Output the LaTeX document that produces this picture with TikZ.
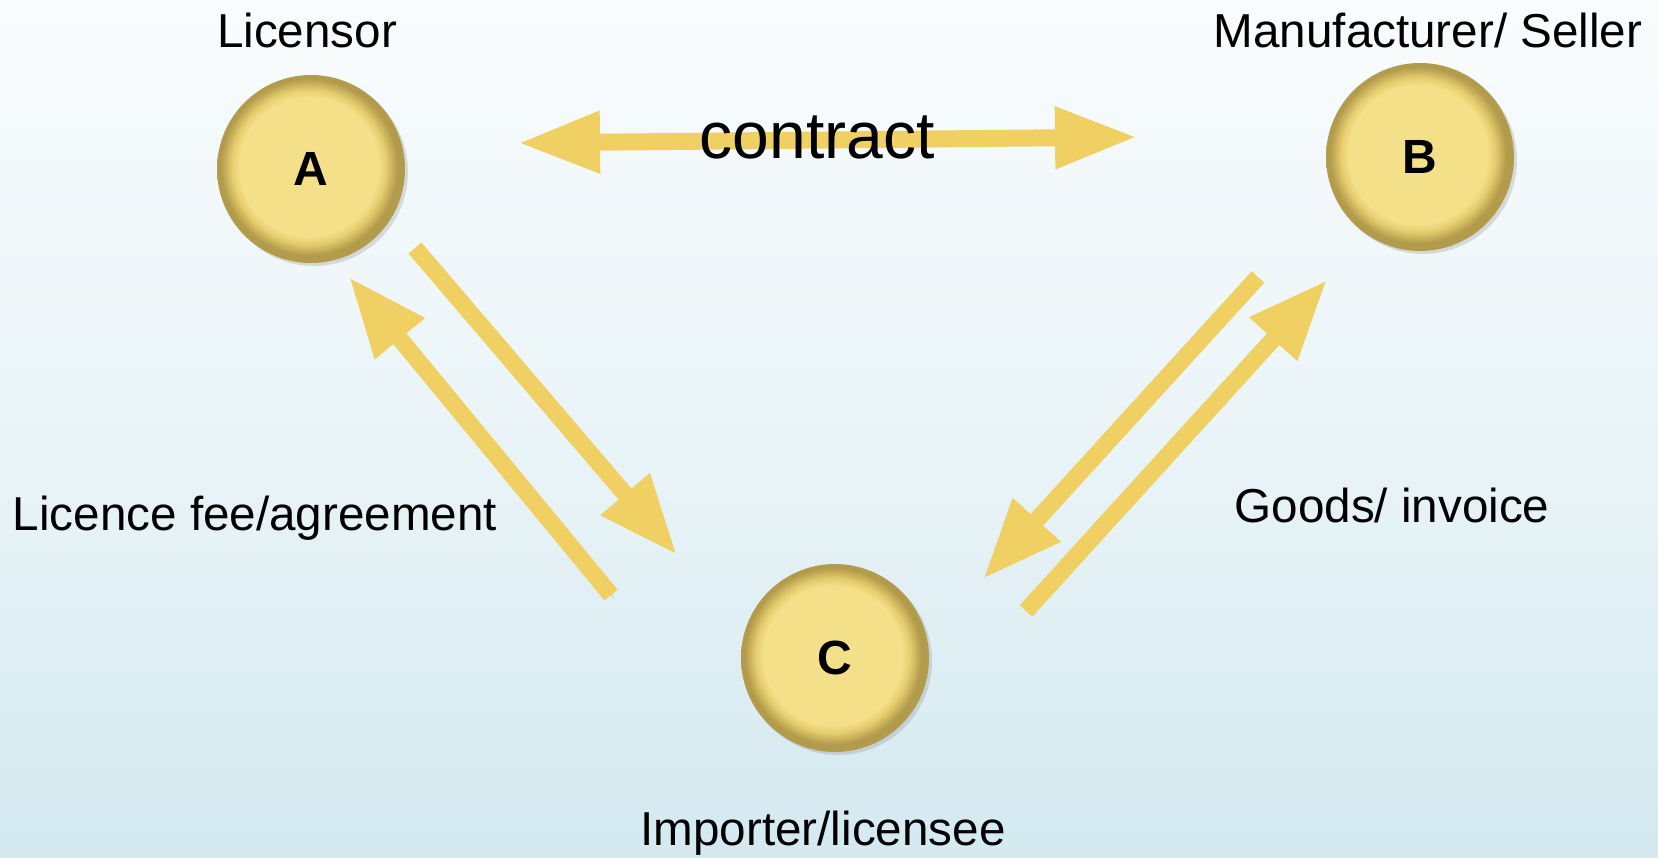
\documentclass[tikz,border=0pt]{standalone}
\usepackage{tikz}
\usetikzlibrary{
  positioning,
  arrows.meta,
  shadows
}
\usepackage{fontspec}
\setmainfont{Liberation Sans}
\usepackage{xcolor}
\definecolor{bgtop}{HTML}{F9FCFD}
\definecolor{bgbottom}{HTML}{D4E9F0}
\definecolor{coinlight}{HTML}{F4E089}
\definecolor{coinmid}{HTML}{E6CD6E}
\definecolor{coinrim}{HTML}{B39B4C}
\definecolor{gold}{HTML}{F0D062}
\pgfdeclareradialshading{coin}{\pgfpoint{-1bp}{1bp}}{%
  color(0bp)=(coinlight); color(18.5bp)=(coinlight); color(20.5bp)=(coinmid);
  color(23.5bp)=(coinrim); color(25bp)=(coinrim); color(50bp)=(coinrim)}

\begin{document}
\begin{tikzpicture}[
  x=0.5pt, y=-0.5pt,
  coin/.style={circle, inner sep=0pt, minimum size=94pt, shading=coin,
               drop shadow={opacity=0.25, shadow xshift=1.5pt, shadow yshift=-1.5pt},
               font=\fontsize{24}{28}\selectfont\bfseries},
  lbl/.style={font=\fontsize{23.8}{28}\selectfont, text depth=0pt, inner sep=0pt},
  bigarrow/.style={draw=gold, line width=8.5pt,
               -{Triangle[length=40pt, width=30pt]},
               preaction={draw=black!60, opacity=0.25,
                          transform canvas={xshift=1.5pt, yshift=-1.5pt}}},
  bothways/.style={bigarrow,
               {Triangle[length=41pt, width=29pt]}-{Triangle[length=41pt, width=29pt]}}
]
  % Background
  \fill[top color=bgtop, bottom color=bgbottom, middle color=bgtop!60!bgbottom]
    (0,0) rectangle (1658,857);
  \useasboundingbox (0,0) rectangle (1658,857);

  % Parties
  \node[coin] (A) at (311,169) {A};
  \node[coin] (B) at (1420,157) {B};
  \node[coin] (C) at (835,658) {C};

  % Labels
  \node[lbl] (licensor) at (307,30) {Licensor};
  \node[lbl] (maker) at (1428,30) {Manufacturer/ Seller};
  \node[lbl] (fee) at (255,513) {Licence fee/agreement};
  \node[lbl] (goods) at (1392,505) {Goods/ invoice};
  \node[lbl] (importer) at (823,828) {Importer/licensee};

  % Arrow ends
  \coordinate (ab-left) at (518,143);
  \coordinate (ab-right) at (1137,137);
  \coordinate (ac-tail) at (415,248);
  \coordinate (ac-tip) at (677,555);
  \coordinate (ca-tail) at (611,595);
  \coordinate (ca-tip) at (349,277);
  \coordinate (bc-tail) at (1258,277);
  \coordinate (bc-tip) at (983,579);
  \coordinate (cb-tail) at (1026,611);
  \coordinate (cb-tip) at (1327,280);

  % Flows
  \draw[bothways] (ab-left) -- (ab-right);
  \draw[bigarrow] (ac-tail) -- (ac-tip);
  \draw[bigarrow] (ca-tail) -- (ca-tip);
  \draw[bigarrow] (bc-tail) -- (bc-tip);
  \draw[bigarrow] (cb-tail) -- (cb-tip);

  \node[lbl, font=\fontsize{33}{38}\selectfont] (contract) at (817,137) {contract};

\end{tikzpicture}
\end{document}
